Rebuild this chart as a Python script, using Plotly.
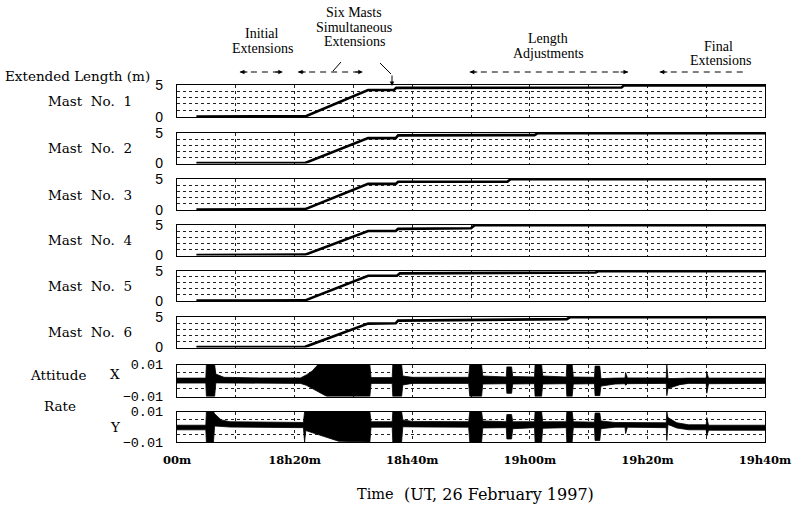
import plotly.graph_objects as go

W, H = 792, 507

# ---------------- data (minutes after 18h00m UT, 26 February 1997) ----------------
TIME_TICK_VALS = [0, 20, 40, 60, 80, 100]
TIME_TICK_TEXT = ["00m", "18h20m", "18h40m", "19h00m", "19h20m", "19h40m"]
GRID_MINUTES = [0, 10, 20, 30, 40, 50, 60, 70, 80, 90, 100]

MAST_LABELS = ["Mast No. 1", "Mast No. 2", "Mast No. 3",
               "Mast No. 4", "Mast No. 5", "Mast No. 6"]
LENGTH_TICK_VALS = [0, 1, 2, 3, 4, 5]
LENGTH_TICK_TEXT = ["0", "", "", "", "", "5"]
RATE_TICK_VALS = [-0.01, -0.005, 0.005, 0.01]
RATE_TICK_TEXT = ["\u22120.01", "", "", "0.01"]

mast1_t = [3.3, 11.8, 12.0, 22.0, 32.5, 36.9, 37.3, 75.6, 76.0, 100]
mast1_len = [0.0, 0.0, 0.1, 0.1, 4.2, 4.2, 4.55, 4.6, 4.92, 4.92]
mast2_t = [3.3, 21.8, 32.5, 37.2, 37.6, 60.8, 61.3, 100]
mast2_len = [0.0, 0.03, 4.15, 4.15, 4.6, 4.65, 4.95, 4.95]
mast3_t = [3.3, 15.0, 15.2, 21.8, 32.5, 37.2, 37.6, 56.2, 56.7, 100]
mast3_len = [0.0, 0.0, 0.08, 0.08, 4.2, 4.2, 4.55, 4.55, 4.95, 4.95]
mast4_t = [3.3, 14.7, 14.9, 21.8, 32.5, 37.2, 37.6, 50.0, 50.6, 100]
mast4_len = [0.0, 0.0, 0.08, 0.08, 4.0, 4.0, 4.35, 4.45, 4.95, 4.95]
mast5_t = [3.3, 18.6, 18.8, 21.8, 32.5, 37.4, 37.9, 71.2, 71.6, 100]
mast5_len = [0.0, 0.0, 0.05, 0.05, 4.2, 4.2, 4.6, 4.75, 4.95, 4.95]
mast6_t = [3.3, 16.0, 16.2, 21.8, 32.5, 37.2, 37.6, 66.3, 66.8, 100]
mast6_len = [0.0, 0.0, 0.05, 0.05, 3.9, 3.95, 4.4, 4.65, 4.95, 4.95]

# attitude-rate traces read as the envelope (upper / lower edge) of the black band
rate_x_t = [0, 4.9, 5.0, 6.4, 6.6, 8.0, 14.0, 21.0, 22.0, 23.0, 24.0, 25.5, 32.8, 33.0,
            36.6, 36.7, 38.2, 38.4, 40.0, 49.6, 49.8, 51.8, 52.0, 56.0, 56.1, 56.9, 57.1,
            60.8, 60.9, 62.0, 62.2, 66.2, 66.3, 67.2, 67.4, 71.0, 71.1, 71.9, 72.1, 74.5,
            76.2, 76.3, 76.6, 83.2, 83.3, 83.5, 85.5, 87.0, 90.0, 90.1, 90.4, 100]
rate_x_hi = [0.0015, 0.0015, 0.010, 0.010, 0.0040, 0.0020, 0.0016, 0.0016, 0.0035, 0.0060,
             0.0100, 0.0100, 0.0100, 0.0018, 0.0018, 0.0100, 0.0100, 0.0028, 0.0020, 0.0020,
             0.0100, 0.0100, 0.0028, 0.0022, 0.0085, 0.0085, 0.0025, 0.0022, 0.0100, 0.0100,
             0.0028, 0.0022, 0.0100, 0.0100, 0.0022, 0.0020, 0.0090, 0.0090, 0.0012, 0.0015,
             0.0016, 0.0050, 0.0016, 0.0016, 0.0100, 0.0012, 0.0015, 0.0015, 0.0015, 0.0050,
             0.0015, 0.0015]
rate_x_lo = [-0.0016, -0.0016, -0.010, -0.010, -0.0015, -0.0015, -0.0016, -0.0018, -0.0030,
             -0.0050, -0.0070, -0.0100, -0.0100, -0.0018, -0.0018, -0.0100, -0.0100, -0.0028,
             -0.0018, -0.0018, -0.0100, -0.0100, -0.0022, -0.0020, -0.0080, -0.0080, -0.0022,
             -0.0020, -0.0100, -0.0100, -0.0022, -0.0020, -0.0100, -0.0100, -0.0022, -0.0020,
             -0.0095, -0.0095, -0.0035, -0.0022, -0.0020, -0.0030, -0.0020, -0.0018, -0.0095,
             -0.0050, -0.0026, -0.0018, -0.0018, -0.0080, -0.0020, -0.0018]

rate_y_t = [0, 4.9, 5.0, 6.2, 6.4, 7.5, 9.0, 21.5, 21.7, 21.9, 23.5, 25.5, 27.5, 32.8, 33.0,
            36.6, 36.7, 38.2, 38.4, 40.0, 49.6, 49.8, 51.8, 52.0, 56.0, 56.1, 56.9, 57.1,
            60.8, 60.9, 62.0, 62.2, 66.2, 66.3, 67.2, 67.4, 71.0, 71.1, 71.9, 72.1, 74.5,
            76.2, 76.3, 76.6, 83.2, 83.3, 83.5, 85.0, 87.0, 90.0, 90.1, 90.4, 100]
rate_y_hi = [0.0010, 0.0010, 0.010, 0.010, 0.0085, 0.0045, 0.0033, 0.0028, 0.0100, 0.0100,
             0.0100, 0.0100, 0.0100, 0.0100, 0.0033, 0.0033, 0.0100, 0.0100, 0.0045, 0.0035,
             0.0033, 0.0100, 0.0100, 0.0038, 0.0033, 0.0080, 0.0080, 0.0033, 0.0033, 0.0100,
             0.0100, 0.0033, 0.0033, 0.0100, 0.0100, 0.0033, 0.0030, 0.0090, 0.0090, 0.0038,
             0.0028, 0.0028, 0.0028, 0.0028, 0.0026, 0.0100, 0.0060, 0.0026, 0.0013, 0.0013,
             0.0060, 0.0010, 0.0010]
rate_y_lo = [-0.0020, -0.0020, -0.010, -0.010, 0.0005, 0.0000, -0.0002, -0.0006, -0.0100,
             -0.0025, -0.0045, -0.0070, -0.0095, -0.0100, -0.0003, -0.0003, -0.0100, -0.0100,
             0.0000, -0.0001, -0.0003, -0.0100, -0.0100, -0.0008, -0.0006, -0.0080, -0.0080,
             -0.0013, -0.0006, -0.0100, -0.0100, -0.0010, -0.0006, -0.0100, -0.0100, -0.0006,
             -0.0006, -0.0090, -0.0090, -0.0013, -0.0003, -0.0003, -0.0045, -0.0003, -0.0006,
             -0.0090, 0.0015, -0.0008, -0.0020, -0.0020, -0.0060, -0.0023, -0.0023]

# operation phases (start, end in minutes)
PHASE_INITIAL = (10.7, 18.0)
PHASE_SIMULT = (20.6, 31.6)
PHASE_ADJUST = (49.8, 76.7)
PHASE_FINAL = (82.1, 96.3)

# ---------------- layout helpers ----------------
def fx(p):
    return p / W


def fy(p):
    return 1 - p / H


PLOT_L, PLOT_R = 177, 765
PANELS = [(85, 117), (133, 163.5), (179, 210), (225, 255.5), (271, 301),
          (317, 347.5), (364.5, 396.5), (411.5, 442)]

LEFT_FONT = dict(family="DejaVu Serif", size=13.5, color="black")
TOP_FONT = dict(family="Liberation Serif", size=14, color="black")

fig = go.Figure()

mast_t = [mast1_t, mast2_t, mast3_t, mast4_t, mast5_t, mast6_t]
mast_v = [mast1_len, mast2_len, mast3_len, mast4_len, mast5_len, mast6_len]

for i in range(6):
    k = i + 1
    fig.add_trace(go.Scatter(
        x=mast_t[i], y=mast_v[i], mode="lines",
        line=dict(color="black", width=2.6),
        xaxis="x" if k == 1 else f"x{k}", yaxis="y" if k == 1 else f"y{k}",
        showlegend=False, hoverinfo="skip"))

for k, (tt, hi, lo) in [(7, (rate_x_t, rate_x_hi, rate_x_lo)),
                        (8, (rate_y_t, rate_y_hi, rate_y_lo))]:
    fig.add_trace(go.Scatter(
        x=tt, y=lo, mode="lines", line=dict(color="black", width=0.8),
        xaxis=f"x{k}", yaxis=f"y{k}", showlegend=False, hoverinfo="skip"))
    fig.add_trace(go.Scatter(
        x=tt, y=hi, mode="lines", line=dict(color="black", width=0.8),
        fill="tonexty", fillcolor="black",
        xaxis=f"x{k}", yaxis=f"y{k}", showlegend=False, hoverinfo="skip"))

x_ticktext = [TIME_TICK_TEXT[TIME_TICK_VALS.index(m)] if m in TIME_TICK_VALS else ""
              for m in GRID_MINUTES]

layout = dict(
    width=W, height=H, margin=dict(l=0, r=0, t=0, b=0, autoexpand=False),
    paper_bgcolor="white", plot_bgcolor="white", showlegend=False,
)

for i, (top, bot) in enumerate(PANELS):
    k = i + 1
    xn = "xaxis" if k == 1 else f"xaxis{k}"
    yn = "yaxis" if k == 1 else f"yaxis{k}"
    layout[xn] = dict(
        domain=[fx(PLOT_L), fx(PLOT_R)], range=[0, 100],
        anchor="y" if k == 1 else f"y{k}",
        tickmode="array", tickvals=GRID_MINUTES, ticktext=x_ticktext,
        showticklabels=(k == 8), ticks="", automargin=False,
        tickfont=dict(family="DejaVu Serif", size=11.5, color="black", weight="bold"),
        ticklabelstandoff=7, ticklabeloverflow="allow",
        showgrid=True, gridcolor="#222", gridwidth=1, griddash="3px,3px",
        showline=True, linecolor="black", linewidth=1.3, mirror=True,
        zeroline=False, fixedrange=True)
    if k <= 6:
        ydict = dict(range=[-0.06, 5.0], tickvals=LENGTH_TICK_VALS,
                     ticktext=LENGTH_TICK_TEXT,
                     tickfont=dict(family="Liberation Sans", size=14, color="black"))
    else:
        ydict = dict(range=[-0.01, 0.01], tickvals=RATE_TICK_VALS,
                     ticktext=RATE_TICK_TEXT,
                     tickfont=dict(family="Liberation Mono", size=13.5, color="black"))
    ydict.update(
        domain=[fy(bot), fy(top)], anchor="x" if k == 1 else f"x{k}",
        tickmode="array", ticks="", ticklabelstandoff=10, automargin=False,
        showgrid=True, gridcolor="#222", gridwidth=1, griddash="3px,3px",
        showline=True, linecolor="black", linewidth=1.3, mirror=True,
        zeroline=False, fixedrange=True)
    layout[yn] = ydict

fig.update_layout(**layout)

ann = []
shapes = []


def text(t, x, y, font, xanchor="center"):
    ann.append(dict(text=t, x=fx(x), y=fy(y), xref="paper", yref="paper",
                    xanchor=xanchor, yanchor="middle", showarrow=False, font=font))


# left-hand labels
text("Extended Length (m)", 3, 76, LEFT_FONT, xanchor="left")
for i, lab in enumerate(MAST_LABELS):
    top, bot = PANELS[i]
    text(lab.replace(" ", "\u00a0\u00a0"), 90, (top + bot) / 2, LEFT_FONT)
text("Attitude", 58, 375, LEFT_FONT)
text("Rate", 60, 406, LEFT_FONT)
text("X", 115, 374, LEFT_FONT)
text("Y", 115, 427, LEFT_FONT)
text("Time", 375, 494, dict(family="DejaVu Serif", size=14.5, color="black"))
text("(UT, 26 February 1997)", 402, 494,
     dict(family="DejaVu Serif", size=16, color="black"), xanchor="left")

# phase captions
for t, x, y in [("Six Masts", 354, 12), ("Simultaneous", 354, 27), ("Extensions", 354, 42),
                ("Initial", 262, 33), ("Extensions", 262, 48),
                ("Length", 548, 39), ("Adjustments", 548, 54),
                ("Final", 718, 46), ("Extensions", 720, 61)]:
    text(t, x, y, TOP_FONT)

ARROW_Y = 72


def dashed_arrow(x0, x1, left=True, right=True):
    shapes.append(dict(type="line", xref="x", yref="paper", x0=x0, x1=x1,
                       y0=fy(ARROW_Y), y1=fy(ARROW_Y),
                       line=dict(color="black", width=1, dash="6px,5px")))
    if left:
        ann.append(dict(x=x0, y=fy(ARROW_Y), xref="x", yref="paper", text="",
                        showarrow=True, ax=9, ay=0, arrowhead=2, arrowsize=0.9,
                        arrowwidth=1, arrowcolor="black"))
    if right:
        ann.append(dict(x=x1, y=fy(ARROW_Y), xref="x", yref="paper", text="",
                        showarrow=True, ax=-9, ay=0, arrowhead=2, arrowsize=0.9,
                        arrowwidth=1, arrowcolor="black"))


dashed_arrow(*PHASE_INITIAL)
dashed_arrow(*PHASE_SIMULT)
dashed_arrow(*PHASE_ADJUST)
dashed_arrow(*PHASE_FINAL, right=False)

# pointer strokes from "Six Masts Simultaneous Extensions"
shapes.append(dict(type="line", xref="paper", yref="paper", x0=fx(341), y0=fy(62),
                   x1=fx(333), y1=fy(71), line=dict(color="black", width=1)))
shapes.append(dict(type="line", xref="paper", yref="paper", x0=fx(380), y0=fy(63),
                   x1=fx(391), y1=fy(74), line=dict(color="black", width=1)))
ann.append(dict(x=fx(392), y=fy(86), xref="paper", yref="paper", text="",
                showarrow=True, ax=0, ay=-12, arrowhead=2, arrowsize=0.9,
                arrowwidth=1, arrowcolor="black"))

fig.update_layout(annotations=ann, shapes=shapes)
fig.write_html(
    "out.html",
    config={"displayModeBar": False},
    post_script="document.body.style.margin='0';document.body.style.overflow='hidden';")
